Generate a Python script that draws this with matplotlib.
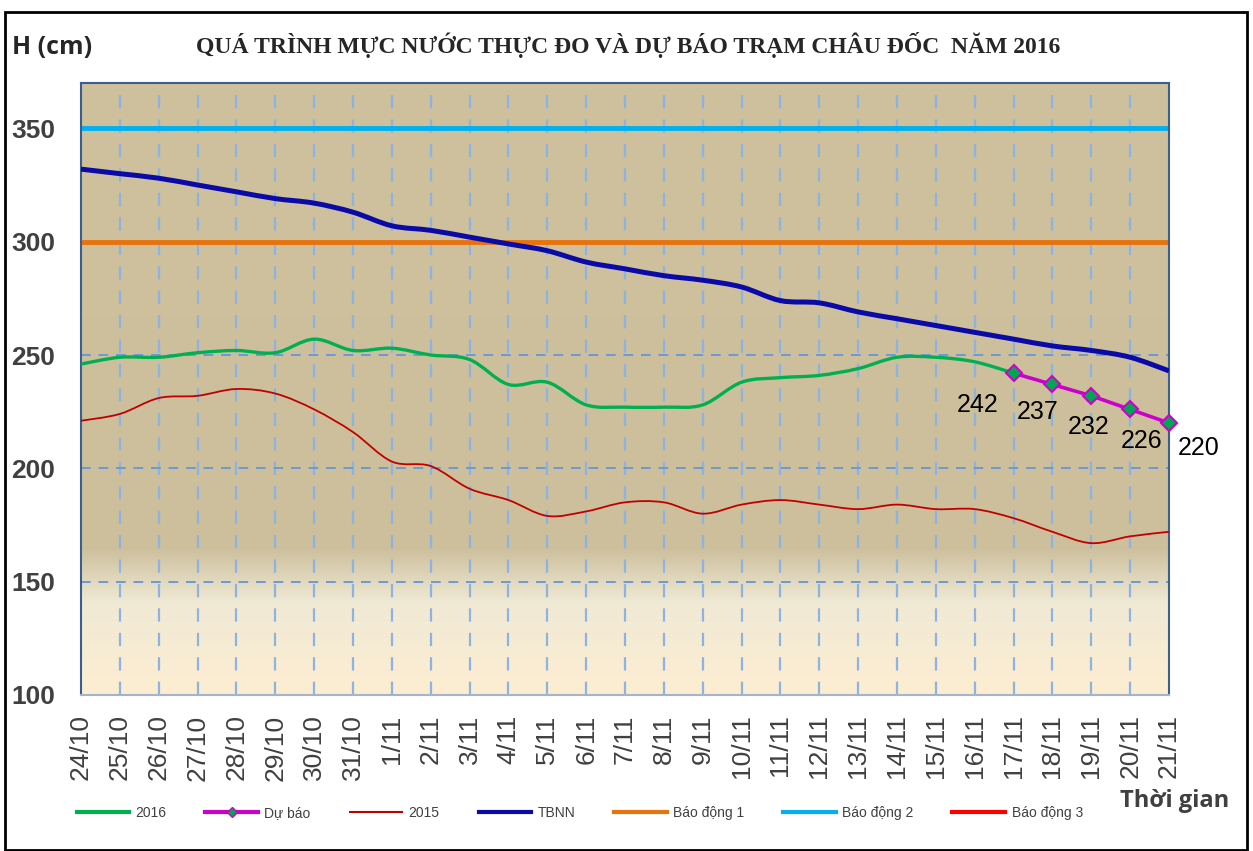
import numpy as np
import matplotlib
matplotlib.use("Agg")
import matplotlib.pyplot as plt
from matplotlib.path import Path
from matplotlib.patches import PathPatch, Rectangle
from matplotlib.colors import LinearSegmentedColormap
from matplotlib.lines import Line2D

# --- Daten ---
days = ["24/10", "25/10", "26/10", "27/10", "28/10", "29/10", "30/10", "31/10",
        "1/11", "2/11", "3/11", "4/11", "5/11", "6/11", "7/11", "8/11", "9/11",
        "10/11", "11/11", "12/11", "13/11", "14/11", "15/11", "16/11", "17/11",
        "18/11", "19/11", "20/11", "21/11"]
h2016 = [246, 249, 249, 251, 252, 251, 257, 252, 253, 250, 248, 237, 238, 228,
         227, 227, 228, 238, 240, 241, 244, 249, 249, 247, 242]
forecast_days = ["17/11", "18/11", "19/11", "20/11", "21/11"]
forecast = [242, 237, 232, 226, 220]
h2015 = [221, 224, 231, 232, 235, 233, 226, 216, 203, 201, 191, 186, 179, 181,
         185, 185, 180, 184, 186, 184, 182, 184, 182, 182, 178, 172, 167, 170, 172]
tbnn = [332, 330, 328, 325, 322, 319, 317, 313, 307, 305, 302, 299, 296, 291,
        288, 285, 283, 280, 274, 273, 269, 266, 263, 260, 257, 254, 252, 249, 243]
bd1, bd2, bd3 = 300, 350, 400
yticks = [100, 150, 200, 250, 300, 350]


def smooth_path(xs, ys):
    """Excel-artige Glaettung (Bezier durch alle Punkte)."""
    pts = np.column_stack([xs, ys]).astype(float)
    verts = [pts[0]]
    codes = [Path.MOVETO]
    n = len(pts)
    for i in range(n - 1):
        p0 = pts[i - 1] if i > 0 else pts[i]
        p1, p2 = pts[i], pts[i + 1]
        p3 = pts[i + 2] if i + 2 < n else pts[i + 1]
        verts += [p1 + (p2 - p0) / 6, p2 - (p3 - p1) / 6, p2]
        codes += [Path.CURVE4] * 3
    return Path(verts, codes)


fig = plt.figure(figsize=(12.53, 8.51), dpi=100)
ax = fig.add_axes([81 / 1253, 1 - 695 / 851, (1169 - 81) / 1253, (695 - 83) / 851])

x = np.arange(len(days))
ax.set_xlim(0, len(days) - 1)
ax.set_ylim(100, 370)

# Hintergrund-Verlauf
cmap = LinearSegmentedColormap.from_list("bg", [(0.0, "#cfc19e"), (0.76, "#cdbf9c"),
                                               (0.85, "#f0e9d5"), (1.0, "#fdeed2")])
ax.imshow(np.linspace(0, 1, 256).reshape(-1, 1), cmap=cmap, aspect="auto",
          extent=(0, len(days) - 1, 100, 370), zorder=0)

# Gitter
for xi in x[1:-1]:
    ax.axvline(xi, color="#8db3e2", linestyle=(0, (6, 5)), linewidth=1.6, zorder=1)
for yv in [150, 200, 250]:
    ax.axhline(yv, color="#6a9ad6", linestyle=(0, (5, 4)), linewidth=1.4, zorder=1)

ax.axhline(bd3, color="#ff0000", linewidth=3.5, zorder=2)
ax.axhline(bd2, color="#00b0f0", linewidth=3.5, zorder=2)
ax.axhline(bd1, color="#e8720c", linewidth=3.5, zorder=2)

ax.add_patch(PathPatch(smooth_path(x, h2015), fill=False, edgecolor="#c00000",
                       linewidth=1.3, zorder=3))
ax.add_patch(PathPatch(smooth_path(x, tbnn), fill=False, edgecolor="#0a0aa8",
                       linewidth=3.6, zorder=3, capstyle="butt"))
ax.add_patch(PathPatch(smooth_path(x[:len(h2016)], h2016), fill=False, edgecolor="#00b050",
                       linewidth=2.4, zorder=4))

fx = [days.index(d) for d in forecast_days]
ax.plot(fx, forecast, color="#cc00cc", linewidth=2.6, marker="D", markersize=8,
        markerfacecolor="#00a650", markeredgecolor="#cc00cc", markeredgewidth=1.5,
        zorder=5, clip_on=False)
offsets = [(-36, -32), (-15, -28), (-3, -31), (11, -32), (30, -25)]
for xi, v, off in zip(fx, forecast, offsets):
    ax.annotate(f"{v}", (xi, v), xytext=off, textcoords="offset pixels",
                ha="center", va="center", fontsize=18, color="black",
                family="Liberation Sans", zorder=6, annotation_clip=False)

# Achsen
for s in ["left", "top", "right"]:
    ax.spines[s].set_color("#3a5f8f")
    ax.spines[s].set_linewidth(1.5)
ax.spines["bottom"].set_color("#a5b4cb")
ax.spines["bottom"].set_linewidth(1.5)
ax.set_xticks(x)
ax.set_xticklabels(days, rotation=90, fontsize=19, color="#404040",
                   family="Liberation Sans")
ax.set_yticks(yticks)
ax.set_yticklabels([str(v) for v in yticks], fontsize=19, fontweight="bold",
                   color="#404040", family="Liberation Sans")
ax.tick_params(axis="both", length=0)
ax.tick_params(axis="x", pad=14)
ax.tick_params(axis="y", pad=18.5)

# Texte
fig.text(628 / 1253, 1 - 45 / 851,
         "QUÁ TRÌNH MỰC NƯỚC THỰC ĐO VÀ DỰ BÁO TRẠM CHÂU ĐỐC  NĂM 2016",
         ha="center", va="center", fontsize=17, fontweight="bold",
         family="Liberation Serif", color="#262626")
fig.text(12 / 1253, 1 - 48 / 851, "H (cm)", ha="left", va="center", fontsize=18,
         fontweight="bold", family="Open Sans", color="#262626")
fig.text(1175 / 1253, 1 - 801 / 851, "Thời gian", ha="center", va="center",
         fontsize=17, fontweight="bold", family="Open Sans", color="#404040")

handles = [
    Line2D([], [], color="#00b050", linewidth=3),
    Line2D([], [], color="#cc00cc", linewidth=3, marker="D", markersize=5,
           markerfacecolor="#00a650", markeredgecolor="#cc00cc"),
    Line2D([], [], color="#c00000", linewidth=1.5),
    Line2D([], [], color="#0a0aa8", linewidth=3),
    Line2D([], [], color="#e8720c", linewidth=3),
    Line2D([], [], color="#00b0f0", linewidth=3),
    Line2D([], [], color="#ff0000", linewidth=3),
]
labels = ["2016", "Dự báo", "2015", "TBNN", "Báo động 1", "Báo động 2", "Báo động 3"]
leg = fig.legend(handles, labels, loc="center left", bbox_to_anchor=(64 / 1253, 1 - 813 / 851),
                 ncol=7, frameon=False, fontsize=10, handlelength=3.8,
                 columnspacing=2.8, handletextpad=0.45)
for t in leg.get_texts():
    t.set_color("#404040")
    t.set_family("Liberation Sans")

# Rahmen
fig.patches.append(Rectangle((5 / 1253, 0.001), 1242 / 1253, 1 - 12 / 851 - 0.001,
                             transform=fig.transFigure, fill=False,
                             edgecolor="black", linewidth=2))

fig.savefig("out.png", dpi=100)
